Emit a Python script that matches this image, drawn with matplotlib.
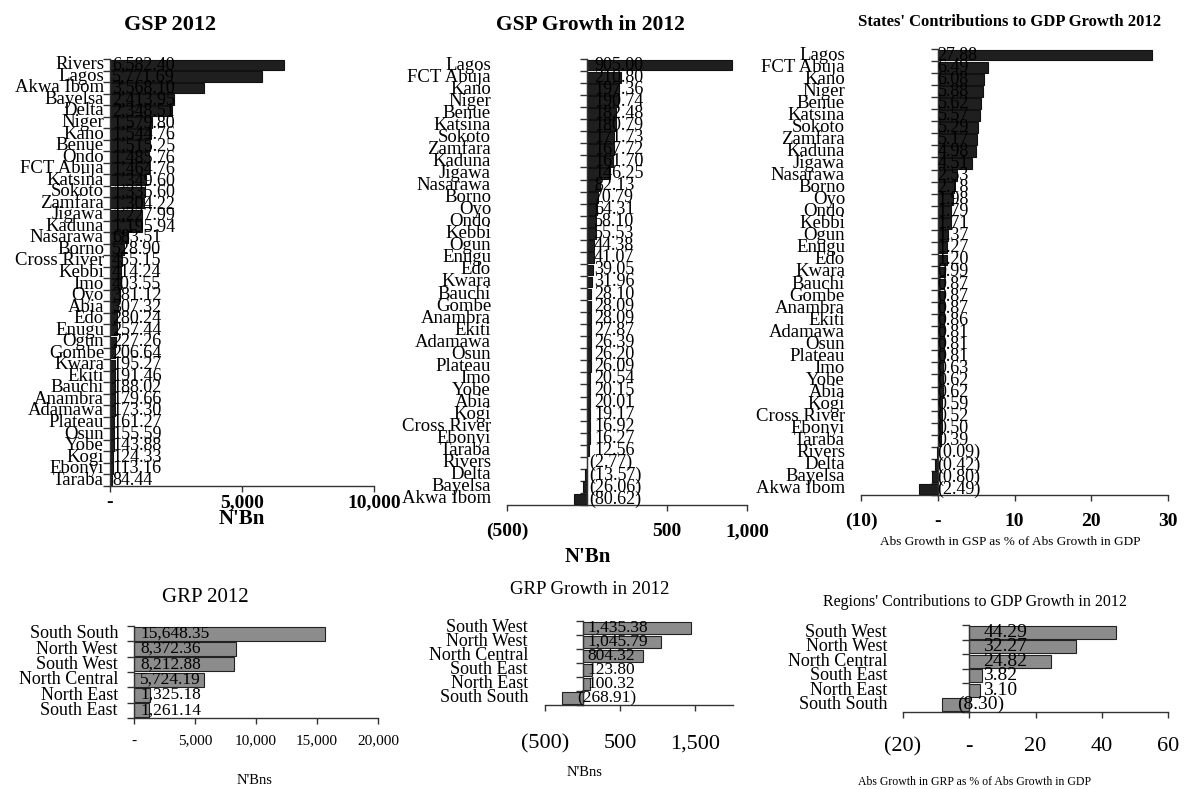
import matplotlib
matplotlib.use("Agg")
import matplotlib.pyplot as plt
import matplotlib.transforms as mtransforms
from matplotlib.ticker import FixedLocator, FuncFormatter
import numpy as np

plt.rcParams['font.family'] = ['Liberation Serif', 'DejaVu Serif']

# ---------------- data ----------------
gsp_states = ["Rivers", "Lagos", "Akwa Ibom", "Bayelsa", "Delta", "Niger", "Kano", "Benue",
              "Ondo", "FCT Abuja", "Katsina", "Sokoto", "Zamfara", "Jigawa", "Kaduna",
              "Nasarawa", "Borno", "Cross River", "Kebbi", "Imo", "Oyo", "Abia", "Edo",
              "Enugu", "Ogun", "Gombe", "Kwara", "Ekiti", "Bauchi", "Anambra", "Adamawa",
              "Plateau", "Osun", "Yobe", "Kogi", "Ebonyi", "Taraba"]
gsp_values = [6582.40, 5771.69, 3568.10, 2413.95, 2348.51, 1579.80, 1544.76, 1515.25,
              1485.76, 1464.76, 1349.60, 1335.60, 1304.22, 1227.99, 1195.94,
              683.51, 528.90, 455.15, 414.24, 403.55, 381.12, 307.32, 280.24,
              257.44, 227.26, 206.64, 195.27, 191.46, 188.02, 179.66, 173.30,
              161.27, 155.59, 143.88, 124.33, 113.16, 84.44]

growth_states = ["Lagos", "FCT Abuja", "Kano", "Niger", "Benue", "Katsina", "Sokoto",
                 "Zamfara", "Kaduna", "Jigawa", "Nasarawa", "Borno", "Oyo", "Ondo",
                 "Kebbi", "Ogun", "Enugu", "Edo", "Kwara", "Bauchi", "Gombe", "Anambra",
                 "Ekiti", "Adamawa", "Osun", "Plateau", "Imo", "Yobe", "Abia", "Kogi",
                 "Cross River", "Ebonyi", "Taraba", "Rivers", "Delta", "Bayelsa", "Akwa Ibom"]
growth_values = [905.00, 210.80, 197.36, 190.74, 182.48, 180.79, 171.73,
                 167.72, 161.70, 146.25, 82.13, 70.79, 64.31, 58.10,
                 55.53, 44.38, 41.07, 39.05, 31.96, 28.10, 28.09, 28.09,
                 27.87, 26.39, 26.20, 26.09, 20.54, 20.15, 20.01, 19.17,
                 16.92, 16.27, 12.56, -2.77, -13.57, -26.06, -80.62]
contrib_values = [27.88, 6.49, 6.08, 5.88, 5.62, 5.57, 5.29,
                  5.17, 4.98, 4.51, 2.53, 2.18, 1.98, 1.79,
                  1.71, 1.37, 1.27, 1.20, 0.99, 0.87, 0.87, 0.87,
                  0.86, 0.81, 0.81, 0.81, 0.63, 0.62, 0.62, 0.59,
                  0.52, 0.50, 0.39, -0.09, -0.42, -0.80, -2.49]

grp_regions = ["South South", "North West", "South West", "North Central", "North East", "South East"]
grp_values = [15648.35, 8372.36, 8212.88, 5724.19, 1325.18, 1261.14]

grp_growth_regions = ["South West", "North West", "North Central", "South East", "North East", "South South"]
grp_growth_values = [1435.38, 1045.79, 804.32, 123.80, 100.32, -268.91]
grp_contrib_values = [44.29, 32.27, 24.82, 3.82, 3.10, -8.30]

# ---------------- helpers ----------------
W, H = 1184, 789
fig = plt.figure(figsize=(W / 100, H / 100), dpi=100)
fig.patch.set_facecolor('white')

STATE_BAR = '#1f1f1f'
REGION_BAR = '#8c8c8c'
LINE = '#333333'


def px_axes(left, top, right, bottom):
    return fig.add_axes([left / W, 1 - bottom / H, (right - left) / W, (bottom - top) / H])


def num(v, decimals):
    if v == 0:
        return '-'
    s = f"{abs(v):,.{decimals}f}"
    return f"({s})" if v < 0 else s


def bar_panel(ax, cats, vals, xlim, ticks, color, edge, height, cat_size, val_size,
              pos_off, neg_off, tick_size, tick_weight, tick_pad, cat_gap):
    n = len(cats)
    y = np.arange(n)
    ax.barh(y, vals, height=height, color=color, edgecolor=edge, linewidth=0.8, zorder=2)
    ax.set_xlim(*xlim)
    ax.set_ylim(n - 0.5, -0.5)
    for s in ('top', 'right'):
        ax.spines[s].set_visible(False)
    ax.spines['left'].set_position(('data', 0))
    for s in ('left', 'bottom'):
        ax.spines[s].set_color(LINE)
        ax.spines[s].set_linewidth(1.0)
    ax.set_yticks([])
    ax.yaxis.set_minor_locator(FixedLocator(np.arange(-0.5, n, 1.0)))
    ax.tick_params(axis='y', which='minor', length=5, width=1, direction='out', color=LINE)
    ax.set_xticks(ticks)
    ax.xaxis.set_major_formatter(FuncFormatter(lambda v, p: num(v, 0)))
    ax.tick_params(axis='x', length=4, width=1, direction='out', color=LINE,
                   labelsize=tick_size, pad=tick_pad)
    for lab in ax.get_xticklabels():
        lab.set_fontweight(tick_weight)
    # category names just left of the plot area
    name_tr = mtransforms.offset_copy(
        mtransforms.blended_transform_factory(ax.transAxes, ax.transData),
        fig=fig, x=-cat_gap, y=0, units='dots')
    for i, c in enumerate(cats):
        ax.text(0, i, c, transform=name_tr, ha='right', va='center',
                fontsize=cat_size, color='black')
    # value labels anchored near the zero line
    for i, v in enumerate(vals):
        off = pos_off if v >= 0 else neg_off
        tr = mtransforms.offset_copy(ax.transData, fig=fig, x=off, y=0, units='dots')
        ax.text(0, i, num(v, 2), transform=tr, ha='left', va='center',
                fontsize=val_size, color='black', zorder=3)
    ax.set_facecolor('none')


# ---------------- top row: states ----------------
ax1 = px_axes(110, 59, 374, 486)
bar_panel(ax1, gsp_states, gsp_values, (0, 10000), [0, 5000, 10000], STATE_BAR, '#111111',
          0.9, 13.5, 13, 2, 2, 14, 'bold', 2, 6)

ax2 = px_axes(507, 59, 747, 505)
bar_panel(ax2, growth_states, growth_values, (-500, 1000), [-500, 500, 1000], STATE_BAR, '#111111',
          0.9, 13.5, 13, 7, 2, 14, 'bold', 9, 16)

ax3 = px_axes(861, 49, 1168, 495)
bar_panel(ax3, growth_states, contrib_values, (-10, 30), [-10, 0, 10, 20, 30], STATE_BAR, '#111111',
          0.9, 13.5, 13, 0, 0, 14, 'bold', 9, 16)

# ---------------- bottom row: regions ----------------
ax4 = px_axes(134, 626, 378, 718)
bar_panel(ax4, grp_regions, grp_values, (0, 20000), [0, 5000, 10000, 15000, 20000], REGION_BAR, '#222222',
          0.92, 13, 12.5, 6, 6, 11, 'normal', 8, 16)

ax5 = px_axes(545, 621, 733, 705)
bar_panel(ax5, grp_growth_regions, grp_growth_values, (-500, 2000), [-500, 500, 1500], REGION_BAR, '#222222',
          0.92, 13, 12.5, 5, -5, 16, 'normal', 17, 17)

ax6 = px_axes(903, 625, 1168, 712)
bar_panel(ax6, grp_growth_regions, grp_contrib_values, (-20, 60), [-20, 0, 20, 40, 60], REGION_BAR, '#222222',
          0.92, 13, 14, 14, -12, 16, 'normal', 14, 16)

# ---------------- titles and axis captions ----------------
fig.text(170 / W, 1 - 25 / H, "GSP 2012", ha='center', va='center', fontsize=16, fontweight='bold')
fig.text(590 / W, 1 - 25 / H, "GSP Growth in 2012", ha='center', va='center', fontsize=15.5, fontweight='bold')
fig.text(1010 / W, 1 - 22 / H, "States' Contributions to GDP Growth 2012", ha='center', va='center',
         fontsize=12, fontweight='bold')
fig.text(205 / W, 1 - 597 / H, "GRP 2012", ha='center', va='center', fontsize=15)
fig.text(590 / W, 1 - 590 / H, "GRP Growth in 2012", ha='center', va='center', fontsize=13.5)
fig.text(975 / W, 1 - 602 / H, "Regions' Contributions to GDP Growth in 2012", ha='center', va='center',
         fontsize=11.5)

fig.text(242 / W, 1 - 519 / H, "N'Bn", ha='center', va='center', fontsize=15, fontweight='bold')
fig.text(588 / W, 1 - 557 / H, "N'Bn", ha='center', va='center', fontsize=15, fontweight='bold')
fig.text(1010 / W, 1 - 542 / H, "Abs Growth in GSP as % of Abs Growth in GDP", ha='center', va='center',
         fontsize=9.5)
fig.text(255 / W, 1 - 780 / H, "N'Bns", ha='center', va='center', fontsize=10.5)
fig.text(585 / W, 1 - 773 / H, "N'Bns", ha='center', va='center', fontsize=10.5)
fig.text(975 / W, 1 - 782 / H, "Abs Growth in GRP as % of Abs Growth in GDP", ha='center', va='center',
         fontsize=8.5)

fig.savefig("out.png", dpi=100, facecolor='white')
